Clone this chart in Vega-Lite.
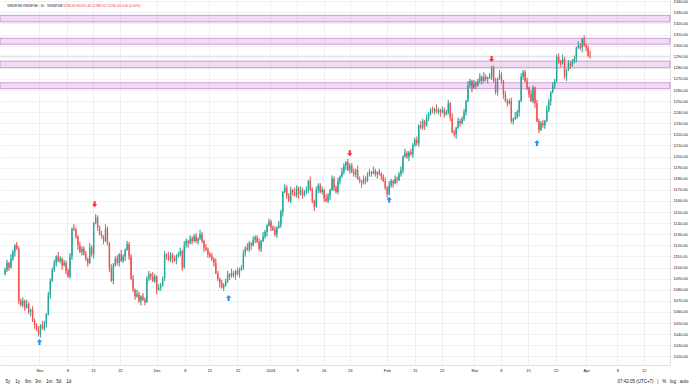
{
"$schema": "https://vega.github.io/schema/vega-lite/v6.json",
"width": 670, "height": 365, "autosize": "none", "padding": {"left": 0, "top": 0, "right": 20, "bottom": 23}, "background": "#ffffff",
"config": {"view": {"stroke": null}, "font": "Liberation Sans",
 "axis": {"labelFont": "Liberation Sans", "labelFontSize": 4, "labelColor": "#131722", "gridColor": "#eceef3", "gridWidth": 0.8, "ticks": false, "domainColor": "#d6d9e0", "domainWidth": 0.8, "titleFont": "Liberation Sans", "titleFontSize": 4.5, "titleFontWeight": "normal", "titleColor": "#131722"}},
"datasets": {
"candles": [
{"t":0,"o":1094,"h":1100,"l":1093,"c":1098},{"t":1,"o":1098,"h":1107,"l":1096,"c":1104},{"t":2,"o":1104,"h":1105,"l":1097,"c":1100},{"t":3,"o":1100,"h":1112,"l":1099,"c":1108},{"t":4,"o":1108,"h":1116,"l":1106,"c":1114},{"t":5,"o":1114,"h":1121,"l":1110,"c":1120},{"t":6,"o":1120,"h":1123,"l":1116,"c":1117},{"t":7,"o":1117,"h":1119,"l":1067,"c":1070},
{"t":8,"o":1070,"h":1072,"l":1065,"c":1066},{"t":9,"o":1066,"h":1073,"l":1064,"c":1070},{"t":10,"o":1070,"h":1071,"l":1061,"c":1064},{"t":11,"o":1064,"h":1071,"l":1063,"c":1067},{"t":12,"o":1067,"h":1069,"l":1058,"c":1060},{"t":13,"o":1060,"h":1063,"l":1056,"c":1062},{"t":14,"o":1062,"h":1065,"l":1051,"c":1052},{"t":15,"o":1052,"h":1054,"l":1045,"c":1048},
{"t":16,"o":1048,"h":1050,"l":1043,"c":1044},{"t":17,"o":1044,"h":1047,"l":1038,"c":1040},{"t":18,"o":1040,"h":1049,"l":1037,"c":1048},{"t":19,"o":1048,"h":1052,"l":1044,"c":1045},{"t":20,"o":1045,"h":1052,"l":1043,"c":1050},{"t":21,"o":1050,"h":1059,"l":1046,"c":1058},{"t":22,"o":1058,"h":1078,"l":1057,"c":1075},{"t":23,"o":1075,"h":1090,"l":1072,"c":1088},
{"t":24,"o":1088,"h":1100,"l":1087,"c":1098},{"t":25,"o":1098,"h":1107,"l":1096,"c":1104},{"t":26,"o":1104,"h":1111,"l":1101,"c":1110},{"t":27,"o":1110,"h":1114,"l":1105,"c":1106},{"t":28,"o":1106,"h":1110,"l":1104,"c":1108},{"t":29,"o":1108,"h":1109,"l":1098,"c":1102},{"t":30,"o":1102,"h":1107,"l":1101,"c":1104},{"t":31,"o":1104,"h":1106,"l":1094,"c":1097},
{"t":32,"o":1097,"h":1099,"l":1091,"c":1092},{"t":33,"o":1092,"h":1113,"l":1090,"c":1110},{"t":34,"o":1110,"h":1136,"l":1107,"c":1135},{"t":35,"o":1135,"h":1139,"l":1133,"c":1134},{"t":36,"o":1134,"h":1136,"l":1126,"c":1128},{"t":37,"o":1128,"h":1129,"l":1116,"c":1120},{"t":38,"o":1120,"h":1123,"l":1113,"c":1114},{"t":39,"o":1114,"h":1119,"l":1111,"c":1117},
{"t":40,"o":1117,"h":1119,"l":1111,"c":1112},{"t":41,"o":1112,"h":1115,"l":1106,"c":1108},{"t":42,"o":1108,"h":1109,"l":1101,"c":1104},{"t":43,"o":1104,"h":1122,"l":1103,"c":1118},{"t":44,"o":1118,"h":1120,"l":1110,"c":1112},{"t":45,"o":1112,"h":1141,"l":1108,"c":1140},{"t":46,"o":1140,"h":1148,"l":1139,"c":1145},{"t":47,"o":1145,"h":1147,"l":1133,"c":1136},
{"t":48,"o":1136,"h":1138,"l":1129,"c":1130},{"t":49,"o":1130,"h":1133,"l":1126,"c":1128},{"t":50,"o":1128,"h":1129,"l":1121,"c":1124},{"t":51,"o":1124,"h":1139,"l":1123,"c":1135},{"t":52,"o":1135,"h":1137,"l":1120,"c":1122},{"t":53,"o":1122,"h":1123,"l":1096,"c":1100},{"t":54,"o":1100,"h":1103,"l":1087,"c":1088},{"t":55,"o":1088,"h":1104,"l":1085,"c":1102},
{"t":56,"o":1102,"h":1110,"l":1101,"c":1108},{"t":57,"o":1108,"h":1111,"l":1102,"c":1104},{"t":58,"o":1104,"h":1113,"l":1101,"c":1112},{"t":59,"o":1112,"h":1116,"l":1105,"c":1106},{"t":60,"o":1106,"h":1112,"l":1104,"c":1110},{"t":61,"o":1110,"h":1117,"l":1106,"c":1116},{"t":62,"o":1116,"h":1124,"l":1115,"c":1121},{"t":63,"o":1121,"h":1123,"l":1107,"c":1110},
{"t":64,"o":1110,"h":1112,"l":1089,"c":1090},{"t":65,"o":1090,"h":1093,"l":1078,"c":1080},{"t":66,"o":1080,"h":1081,"l":1071,"c":1074},{"t":67,"o":1074,"h":1080,"l":1073,"c":1076},{"t":68,"o":1076,"h":1078,"l":1068,"c":1070},{"t":69,"o":1070,"h":1075,"l":1066,"c":1074},{"t":70,"o":1074,"h":1077,"l":1070,"c":1071},{"t":71,"o":1071,"h":1073,"l":1066,"c":1069},
{"t":72,"o":1069,"h":1092,"l":1068,"c":1090},{"t":73,"o":1090,"h":1097,"l":1088,"c":1094},{"t":74,"o":1094,"h":1095,"l":1089,"c":1092},{"t":75,"o":1092,"h":1096,"l":1087,"c":1088},{"t":76,"o":1088,"h":1094,"l":1086,"c":1092},{"t":77,"o":1092,"h":1093,"l":1076,"c":1080},{"t":78,"o":1080,"h":1085,"l":1079,"c":1082},{"t":79,"o":1082,"h":1086,"l":1079,"c":1084},
{"t":80,"o":1084,"h":1092,"l":1083,"c":1090},{"t":81,"o":1090,"h":1115,"l":1088,"c":1112},{"t":82,"o":1112,"h":1113,"l":1107,"c":1110},{"t":83,"o":1110,"h":1114,"l":1106,"c":1107},{"t":84,"o":1107,"h":1114,"l":1105,"c":1112},{"t":85,"o":1112,"h":1113,"l":1104,"c":1108},{"t":86,"o":1108,"h":1111,"l":1105,"c":1106},{"t":87,"o":1106,"h":1112,"l":1103,"c":1110},
{"t":88,"o":1110,"h":1114,"l":1109,"c":1112},{"t":89,"o":1112,"h":1118,"l":1110,"c":1115},{"t":90,"o":1115,"h":1116,"l":1097,"c":1100},{"t":91,"o":1100,"h":1124,"l":1099,"c":1120},{"t":92,"o":1120,"h":1126,"l":1118,"c":1124},{"t":93,"o":1124,"h":1125,"l":1118,"c":1122},{"t":94,"o":1122,"h":1129,"l":1121,"c":1126},{"t":95,"o":1126,"h":1128,"l":1121,"c":1124},
{"t":96,"o":1124,"h":1130,"l":1123,"c":1128},{"t":97,"o":1128,"h":1131,"l":1122,"c":1124},{"t":98,"o":1124,"h":1127,"l":1121,"c":1126},{"t":99,"o":1126,"h":1134,"l":1125,"c":1130},{"t":100,"o":1130,"h":1132,"l":1122,"c":1124},{"t":101,"o":1124,"h":1125,"l":1114,"c":1118},{"t":102,"o":1118,"h":1121,"l":1115,"c":1116},{"t":103,"o":1116,"h":1118,"l":1109,"c":1112},
{"t":104,"o":1112,"h":1114,"l":1109,"c":1110},{"t":105,"o":1110,"h":1113,"l":1106,"c":1108},{"t":106,"o":1108,"h":1109,"l":1101,"c":1104},{"t":107,"o":1104,"h":1108,"l":1094,"c":1095},{"t":108,"o":1095,"h":1097,"l":1088,"c":1090},{"t":109,"o":1090,"h":1091,"l":1082,"c":1086},{"t":110,"o":1086,"h":1089,"l":1081,"c":1082},{"t":111,"o":1082,"h":1086,"l":1079,"c":1084},
{"t":112,"o":1084,"h":1090,"l":1083,"c":1088},{"t":113,"o":1088,"h":1097,"l":1086,"c":1094},{"t":114,"o":1094,"h":1095,"l":1089,"c":1092},{"t":115,"o":1092,"h":1099,"l":1091,"c":1095},{"t":116,"o":1095,"h":1097,"l":1091,"c":1093},{"t":117,"o":1093,"h":1098,"l":1089,"c":1097},{"t":118,"o":1097,"h":1100,"l":1093,"c":1094},{"t":119,"o":1094,"h":1100,"l":1091,"c":1098},
{"t":120,"o":1098,"h":1102,"l":1097,"c":1100},{"t":121,"o":1100,"h":1116,"l":1098,"c":1113},{"t":122,"o":1113,"h":1119,"l":1110,"c":1118},{"t":123,"o":1118,"h":1122,"l":1115,"c":1116},{"t":124,"o":1116,"h":1124,"l":1114,"c":1122},{"t":125,"o":1122,"h":1123,"l":1116,"c":1120},{"t":126,"o":1120,"h":1128,"l":1119,"c":1125},{"t":127,"o":1125,"h":1129,"l":1122,"c":1127},
{"t":128,"o":1127,"h":1129,"l":1122,"c":1123},{"t":129,"o":1123,"h":1126,"l":1115,"c":1117},{"t":130,"o":1117,"h":1125,"l":1114,"c":1124},{"t":131,"o":1124,"h":1132,"l":1123,"c":1128},{"t":132,"o":1128,"h":1134,"l":1126,"c":1132},{"t":133,"o":1132,"h":1139,"l":1128,"c":1138},{"t":134,"o":1138,"h":1144,"l":1137,"c":1141},{"t":135,"o":1141,"h":1143,"l":1133,"c":1136},
{"t":136,"o":1136,"h":1138,"l":1133,"c":1134},{"t":137,"o":1134,"h":1137,"l":1128,"c":1130},{"t":138,"o":1130,"h":1137,"l":1127,"c":1136},{"t":139,"o":1136,"h":1142,"l":1135,"c":1138},{"t":140,"o":1138,"h":1152,"l":1136,"c":1150},{"t":141,"o":1150,"h":1169,"l":1146,"c":1168},{"t":142,"o":1168,"h":1175,"l":1167,"c":1172},{"t":143,"o":1172,"h":1174,"l":1162,"c":1165},
{"t":144,"o":1165,"h":1167,"l":1159,"c":1160},{"t":145,"o":1160,"h":1173,"l":1158,"c":1170},{"t":146,"o":1170,"h":1171,"l":1165,"c":1168},{"t":147,"o":1168,"h":1172,"l":1164,"c":1165},{"t":148,"o":1165,"h":1174,"l":1163,"c":1172},{"t":149,"o":1172,"h":1173,"l":1162,"c":1166},{"t":150,"o":1166,"h":1173,"l":1165,"c":1170},{"t":151,"o":1170,"h":1172,"l":1162,"c":1165},
{"t":152,"o":1165,"h":1170,"l":1164,"c":1168},{"t":153,"o":1168,"h":1173,"l":1166,"c":1170},{"t":154,"o":1170,"h":1179,"l":1167,"c":1178},{"t":155,"o":1178,"h":1182,"l":1169,"c":1170},{"t":156,"o":1170,"h":1172,"l":1158,"c":1160},{"t":157,"o":1160,"h":1161,"l":1151,"c":1155},{"t":158,"o":1155,"h":1173,"l":1154,"c":1170},{"t":159,"o":1170,"h":1176,"l":1167,"c":1174},
{"t":160,"o":1174,"h":1176,"l":1167,"c":1168},{"t":161,"o":1168,"h":1173,"l":1166,"c":1170},{"t":162,"o":1170,"h":1171,"l":1159,"c":1162},{"t":163,"o":1162,"h":1166,"l":1159,"c":1160},{"t":164,"o":1160,"h":1167,"l":1158,"c":1165},{"t":165,"o":1165,"h":1171,"l":1161,"c":1170},{"t":166,"o":1170,"h":1183,"l":1169,"c":1180},{"t":167,"o":1180,"h":1182,"l":1169,"c":1172},
{"t":168,"o":1172,"h":1174,"l":1167,"c":1168},{"t":169,"o":1168,"h":1181,"l":1166,"c":1178},{"t":170,"o":1178,"h":1183,"l":1175,"c":1182},{"t":171,"o":1182,"h":1190,"l":1181,"c":1186},{"t":172,"o":1186,"h":1194,"l":1184,"c":1192},{"t":173,"o":1192,"h":1196,"l":1188,"c":1195},{"t":174,"o":1195,"h":1198,"l":1187,"c":1188},{"t":175,"o":1188,"h":1194,"l":1185,"c":1192},
{"t":176,"o":1192,"h":1194,"l":1185,"c":1186},{"t":177,"o":1186,"h":1189,"l":1182,"c":1184},{"t":178,"o":1184,"h":1189,"l":1181,"c":1188},{"t":179,"o":1188,"h":1192,"l":1179,"c":1180},{"t":180,"o":1180,"h":1182,"l":1176,"c":1178},{"t":181,"o":1178,"h":1179,"l":1172,"c":1176},{"t":182,"o":1176,"h":1183,"l":1175,"c":1180},{"t":183,"o":1180,"h":1182,"l":1175,"c":1178},
{"t":184,"o":1178,"h":1186,"l":1177,"c":1184},{"t":185,"o":1184,"h":1189,"l":1182,"c":1186},{"t":186,"o":1186,"h":1187,"l":1182,"c":1185},{"t":187,"o":1185,"h":1191,"l":1184,"c":1187},{"t":188,"o":1187,"h":1189,"l":1182,"c":1184},{"t":189,"o":1184,"h":1187,"l":1180,"c":1186},{"t":190,"o":1186,"h":1189,"l":1183,"c":1184},{"t":191,"o":1184,"h":1186,"l":1179,"c":1182},
{"t":192,"o":1182,"h":1184,"l":1177,"c":1178},{"t":193,"o":1178,"h":1181,"l":1170,"c":1172},{"t":194,"o":1172,"h":1173,"l":1163,"c":1166},{"t":195,"o":1166,"h":1178,"l":1165,"c":1174},{"t":196,"o":1174,"h":1180,"l":1172,"c":1178},{"t":197,"o":1178,"h":1179,"l":1172,"c":1176},{"t":198,"o":1176,"h":1183,"l":1175,"c":1180},{"t":199,"o":1180,"h":1182,"l":1176,"c":1179},
{"t":200,"o":1179,"h":1186,"l":1178,"c":1184},{"t":201,"o":1184,"h":1191,"l":1182,"c":1188},{"t":202,"o":1188,"h":1201,"l":1185,"c":1200},{"t":203,"o":1200,"h":1207,"l":1199,"c":1203},{"t":204,"o":1203,"h":1205,"l":1198,"c":1200},{"t":205,"o":1200,"h":1205,"l":1196,"c":1204},{"t":206,"o":1204,"h":1207,"l":1201,"c":1202},{"t":207,"o":1202,"h":1212,"l":1199,"c":1210},
{"t":208,"o":1210,"h":1217,"l":1209,"c":1215},{"t":209,"o":1215,"h":1218,"l":1210,"c":1212},{"t":210,"o":1212,"h":1229,"l":1209,"c":1228},{"t":211,"o":1228,"h":1232,"l":1225,"c":1226},{"t":212,"o":1226,"h":1234,"l":1224,"c":1232},{"t":213,"o":1232,"h":1233,"l":1224,"c":1228},{"t":214,"o":1228,"h":1238,"l":1227,"c":1235},{"t":215,"o":1235,"h":1240,"l":1232,"c":1238},
{"t":216,"o":1238,"h":1244,"l":1237,"c":1242},{"t":217,"o":1242,"h":1245,"l":1239,"c":1241},{"t":218,"o":1241,"h":1244,"l":1238,"c":1243},{"t":219,"o":1243,"h":1247,"l":1239,"c":1240},{"t":220,"o":1240,"h":1244,"l":1238,"c":1242},{"t":221,"o":1242,"h":1243,"l":1236,"c":1240},{"t":222,"o":1240,"h":1245,"l":1239,"c":1242},{"t":223,"o":1242,"h":1244,"l":1235,"c":1238},
{"t":224,"o":1238,"h":1242,"l":1237,"c":1240},{"t":225,"o":1240,"h":1251,"l":1238,"c":1248},{"t":226,"o":1248,"h":1249,"l":1232,"c":1235},{"t":227,"o":1235,"h":1239,"l":1221,"c":1222},{"t":228,"o":1222,"h":1224,"l":1218,"c":1220},{"t":229,"o":1220,"h":1227,"l":1216,"c":1226},{"t":230,"o":1226,"h":1235,"l":1225,"c":1232},{"t":231,"o":1232,"h":1234,"l":1227,"c":1230},
{"t":232,"o":1230,"h":1236,"l":1229,"c":1234},{"t":233,"o":1234,"h":1243,"l":1232,"c":1240},{"t":234,"o":1240,"h":1251,"l":1237,"c":1250},{"t":235,"o":1250,"h":1268,"l":1249,"c":1264},{"t":236,"o":1264,"h":1270,"l":1262,"c":1268},{"t":237,"o":1268,"h":1269,"l":1258,"c":1262},{"t":238,"o":1262,"h":1269,"l":1261,"c":1266},{"t":239,"o":1266,"h":1268,"l":1261,"c":1264},
{"t":240,"o":1264,"h":1270,"l":1263,"c":1268},{"t":241,"o":1268,"h":1275,"l":1266,"c":1272},{"t":242,"o":1272,"h":1273,"l":1265,"c":1268},{"t":243,"o":1268,"h":1276,"l":1267,"c":1272},{"t":244,"o":1272,"h":1274,"l":1268,"c":1270},{"t":245,"o":1270,"h":1272,"l":1266,"c":1271},{"t":246,"o":1271,"h":1275,"l":1270,"c":1272},{"t":247,"o":1272,"h":1282,"l":1269,"c":1280},
{"t":248,"o":1280,"h":1282,"l":1267,"c":1268},{"t":249,"o":1268,"h":1271,"l":1256,"c":1258},{"t":250,"o":1258,"h":1271,"l":1255,"c":1270},{"t":251,"o":1270,"h":1278,"l":1269,"c":1274},{"t":252,"o":1274,"h":1276,"l":1266,"c":1268},{"t":253,"o":1268,"h":1269,"l":1252,"c":1256},{"t":254,"o":1256,"h":1259,"l":1249,"c":1250},{"t":255,"o":1250,"h":1252,"l":1245,"c":1248},
{"t":256,"o":1248,"h":1252,"l":1247,"c":1250},{"t":257,"o":1250,"h":1253,"l":1230,"c":1232},{"t":258,"o":1232,"h":1235,"l":1229,"c":1234},{"t":259,"o":1234,"h":1240,"l":1233,"c":1236},{"t":260,"o":1236,"h":1242,"l":1234,"c":1240},{"t":261,"o":1240,"h":1251,"l":1236,"c":1250},{"t":262,"o":1250,"h":1275,"l":1249,"c":1272},{"t":263,"o":1272,"h":1278,"l":1269,"c":1276},
{"t":264,"o":1276,"h":1278,"l":1267,"c":1268},{"t":265,"o":1268,"h":1271,"l":1260,"c":1262},{"t":266,"o":1262,"h":1263,"l":1253,"c":1256},{"t":267,"o":1256,"h":1260,"l":1249,"c":1250},{"t":268,"o":1250,"h":1264,"l":1248,"c":1262},{"t":269,"o":1262,"h":1263,"l":1244,"c":1248},{"t":270,"o":1248,"h":1251,"l":1231,"c":1232},{"t":271,"o":1232,"h":1234,"l":1221,"c":1224},
{"t":272,"o":1224,"h":1232,"l":1223,"c":1230},{"t":273,"o":1230,"h":1233,"l":1226,"c":1228},{"t":274,"o":1228,"h":1233,"l":1225,"c":1232},{"t":275,"o":1232,"h":1246,"l":1231,"c":1242},{"t":276,"o":1242,"h":1252,"l":1240,"c":1250},{"t":277,"o":1250,"h":1259,"l":1246,"c":1258},{"t":278,"o":1258,"h":1267,"l":1257,"c":1264},{"t":279,"o":1264,"h":1270,"l":1261,"c":1268},
{"t":280,"o":1268,"h":1292,"l":1267,"c":1290},{"t":281,"o":1290,"h":1293,"l":1284,"c":1286},{"t":282,"o":1286,"h":1287,"l":1281,"c":1284},{"t":283,"o":1284,"h":1292,"l":1283,"c":1288},{"t":284,"o":1288,"h":1290,"l":1270,"c":1272},{"t":285,"o":1272,"h":1279,"l":1268,"c":1278},{"t":286,"o":1278,"h":1287,"l":1277,"c":1284},{"t":287,"o":1284,"h":1286,"l":1279,"c":1282},
{"t":288,"o":1282,"h":1288,"l":1281,"c":1286},{"t":289,"o":1286,"h":1291,"l":1284,"c":1288},{"t":290,"o":1288,"h":1299,"l":1285,"c":1298},{"t":291,"o":1298,"h":1304,"l":1297,"c":1300},{"t":292,"o":1300,"h":1302,"l":1296,"c":1298},{"t":293,"o":1298,"h":1307,"l":1294,"c":1306},{"t":294,"o":1306,"h":1309,"l":1299,"c":1300},{"t":295,"o":1300,"h":1302,"l":1295,"c":1298},
{"t":296,"o":1298,"h":1300,"l":1289.6,"c":1290.6},{"t":297,"o":1290.6,"h":1295.4,"l":1288.5,"c":1290.4}
],
"bands": [{"lo":1321.3,"hi":1327.3},{"lo":1301.2,"hi":1306.6},{"lo":1280.1,"hi":1286.1},{"lo":1261.2,"hi":1266.6}],
"sellSignals": [{"t":45.5,"p":1157},{"t":175,"p":1203},{"t":247,"p":1288}],
"buySignals": [{"t":17.5,"p":1033},{"t":113.5,"p":1072.6},{"t":195,"p":1161},{"t":270,"p":1212.3}]
},
"layer": [
{"data": {"name": "candles"},
 "mark": {"type": "rule", "strokeWidth": 0.7},
 "encoding": {
  "x": {"field": "t", "type": "quantitative", "scale": {"domain": [0, 335], "nice": false, "zero": false},
   "axis": {"orient": "bottom", "values": [17.5,31.7,44.7,58.3,77,91.3,103.7,118,134.7,148.3,161.7,175,193.8,208,221.7,238.3,251.7,265.5,279.5,295,310.8,324.2], "tickCount": 100,
    "labelExpr": "['Nov','8','15','22','Dec','8','15','22','2024','9','16','23','Feb','15','22','Mar','8','15','22','Apr','8','12'][indexof([17.5,31.7,44.7,58.3,77,91.3,103.7,118,134.7,148.3,161.7,175,193.8,208,221.7,238.3,251.7,265.5,279.5,295,310.8,324.2], datum.value)]",
    "labelPadding": 3, "labelFlush": false, "labelOverlap": false, "grid": true,
    "title": "5y\u00a0\u00a0\u00a0\u00a01y\u00a0\u00a0\u00a0\u00a06m\u00a0\u00a0\u00a03m\u00a0\u00a0\u00a0\u00a01m\u00a0\u00a0\u00a05d\u00a0\u00a0\u00a0\u00a01d",
    "titleX": 5, "titleY": 16, "titleAlign": "left", "titleBaseline": "middle", "titleAnchor": "start"}},
  "y": {"field": "l", "type": "quantitative", "scale": {"domain": [1012.2, 1341.1], "nice": false, "zero": false},
   "axis": {"orient": "right", "values": [1020,1030,1040,1050,1060,1070,1080,1090,1100,1110,1120,1130,1140,1150,1160,1170,1180,1190,1200,1210,1220,1230,1240,1250,1260,1270,1280,1290,1300,1310,1320,1330,1340], "tickCount": 100,
    "format": ".2f", "labelPadding": 3, "labelOverlap": false, "grid": true,
    "title": "07:42:05 (UTC+7)\u00a0\u00a0\u00a0|\u00a0\u00a0\u00a0%\u00a0\u00a0\u00a0log\u00a0\u00a0\u00a0auto",
    "titleAngle": 0, "titleX": 18, "titleY": 381, "titleAlign": "right", "titleBaseline": "middle"}},
  "y2": {"field": "h"},
  "color": {"condition": {"test": "datum.c >= datum.o", "value": "#26a69a"}, "value": "#ef5350"}}},
{"data": {"name": "bands"},
 "mark": {"type": "rect", "fill": "#9c27b0", "fillOpacity": 0.16, "stroke": "#9c27b0", "strokeOpacity": 0.5, "strokeWidth": 0.8},
 "encoding": {"y": {"field": "lo", "type": "quantitative", "scale": {"domain": [1012.2, 1341.1], "nice": false, "zero": false}},
  "y2": {"field": "hi"}}},
{"data": {"values": [{}]},
 "mark": {"type": "rule", "color": "#d3d6de", "strokeWidth": 0.8},
 "encoding": {"y": {"datum": 1290.4, "type": "quantitative", "scale": {"domain": [1012.2, 1341.1], "nice": false, "zero": false}}}},
{"data": {"name": "candles"},
 "mark": {"type": "rule", "strokeWidth": 0.7},
 "encoding": {
  "x": {"field": "t", "type": "quantitative", "scale": {"domain": [0, 335], "nice": false, "zero": false}},
  "y": {"field": "l", "type": "quantitative", "scale": {"domain": [1012.2, 1341.1], "nice": false, "zero": false}},
  "y2": {"field": "h"},
  "color": {"condition": {"test": "datum.c >= datum.o", "value": "#26a69a"}, "value": "#ef5350"}}},
{"data": {"name": "candles"},
 "mark": {"type": "bar", "size": 1.4},
 "encoding": {
  "x": {"field": "t", "type": "quantitative", "scale": {"domain": [0, 335], "nice": false, "zero": false}},
  "y": {"field": "o", "type": "quantitative", "scale": {"domain": [1012.2, 1341.1], "nice": false, "zero": false}},
  "y2": {"field": "c"},
  "color": {"condition": {"test": "datum.c >= datum.o", "value": "#26a69a"}, "value": "#ef5350"}}},
{"data": {"name": "sellSignals"},
 "mark": {"type": "point", "shape": "M-0.35,-1L0.35,-1L0.35,0L0.9,0L0,1L-0.9,0L-0.35,0Z", "filled": true, "size": 36, "color": "#f23645", "opacity": 1},
 "encoding": {
  "x": {"field": "t", "type": "quantitative", "scale": {"domain": [0, 335], "nice": false, "zero": false}},
  "y": {"field": "p", "type": "quantitative", "scale": {"domain": [1012.2, 1341.1], "nice": false, "zero": false}}}},
{"data": {"name": "buySignals"},
 "mark": {"type": "point", "shape": "M-0.35,1L0.35,1L0.35,0L0.9,0L0,-1L-0.9,0L-0.35,0Z", "filled": true, "size": 36, "color": "#2196f3", "opacity": 1},
 "encoding": {
  "x": {"field": "t", "type": "quantitative", "scale": {"domain": [0, 335], "nice": false, "zero": false}},
  "y": {"field": "p", "type": "quantitative", "scale": {"domain": [1012.2, 1341.1], "nice": false, "zero": false}}}},
{"data": {"values": [{}]},
 "mark": {"type": "text", "align": "left", "baseline": "middle", "fontSize": 3.3, "color": "#131722", "text": "VN30F1M:VN30F1M · 1h · VN30F1M"},
 "encoding": {
  "x": {"datum": 1, "type": "quantitative", "scale": {"domain": [0, 335], "nice": false, "zero": false}},
  "y": {"datum": 1335.7, "type": "quantitative", "scale": {"domain": [1012.2, 1341.1], "nice": false, "zero": false}}}},
{"data": {"values": [{}]},
 "mark": {"type": "text", "align": "left", "baseline": "middle", "fontSize": 3.3, "color": "#f23645", "text": "O1290.60 H1295.40 L1288.50 C1290.40 0.00 (0.00%)"},
 "encoding": {
  "x": {"datum": 28.5, "type": "quantitative", "scale": {"domain": [0, 335], "nice": false, "zero": false}},
  "y": {"datum": 1335.7, "type": "quantitative", "scale": {"domain": [1012.2, 1341.1], "nice": false, "zero": false}}}}
]
}
